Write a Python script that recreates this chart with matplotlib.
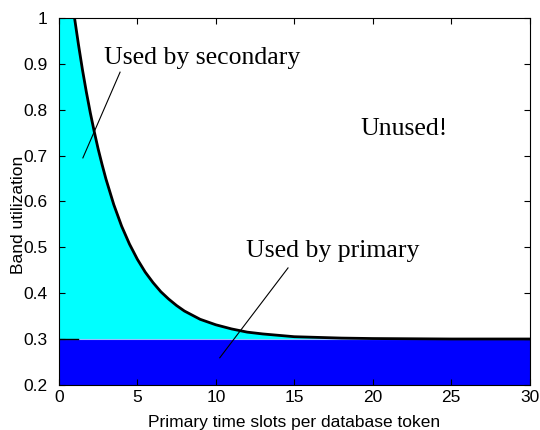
import numpy as np
import matplotlib
matplotlib.use("Agg")
import matplotlib.pyplot as plt

# band usage against primary slots per token
slots = [0, 0.25, 0.5, 0.75, 1, 1.25, 1.5, 1.75, 2, 2.25, 2.5, 2.75, 3,
         3.5, 4, 4.5, 5, 5.5, 6, 6.5, 7, 7.5, 8, 9, 10, 11, 12, 13, 14,
         15, 16, 18, 20, 25, 30]
total_used = [1.29, 1.209, 1.133, 1.064, 1.0, 0.942, 0.888, 0.839, 0.794,
              0.753, 0.715, 0.681, 0.649, 0.593, 0.546, 0.507, 0.474,
              0.446, 0.423, 0.403, 0.387, 0.373, 0.361, 0.343, 0.331,
              0.322, 0.315, 0.311, 0.308, 0.305, 0.304, 0.302, 0.301,
              0.300, 0.300]
primary_share = 0.3
y_floor = 0.2

x = np.array(slots)
y = np.array(total_used)

plt.rcParams['font.family'] = ['Liberation Sans', 'DejaVu Sans']
fig = plt.figure(figsize=(5.4, 4.3), dpi=100)
ax = fig.add_axes([0.109, 0.105, 0.872, 0.853])

ax.fill_between(x, primary_share, y, color=(0, 1, 1), lw=0)
ax.fill_between(x, y_floor, primary_share, color=(0, 0, 1), lw=0)
ax.axhline(primary_share, color=(0.6, 0.75, 1), lw=0.8)
ax.plot(x, y, color='k', lw=2)
ax.plot([0, 1.2], [primary_share, primary_share], color='k', lw=1)

serif = dict(family=['Liberation Serif', 'DejaVu Serif'], fontsize=18.5)
ax.text(2.9, 0.912, "Used by secondary", va='center', **serif)
ax.text(19.2, 0.758, "Unused!", va='center', **serif)
ax.text(11.9, 0.492, "Used by primary", va='center', **serif)
ax.plot([1.53, 3.9], [0.695, 0.882], color='k', lw=0.8)
ax.plot([10.25, 14.6], [0.259, 0.455], color='k', lw=0.8)

ax.set_xlim(0, 30)
ax.set_ylim(0.2, 1)
ax.set_xticks(range(0, 31, 5))
ax.set_yticks([0.2, 0.3, 0.4, 0.5, 0.6, 0.7, 0.8, 0.9, 1])
ax.set_yticklabels(["0.2", "0.3", "0.4", "0.5", "0.6", "0.7", "0.8", "0.9", "1"])
ax.tick_params(direction='in', top=True, right=True, labelsize=12.5, length=4)
ax.tick_params(axis='y', pad=8)
ax.set_xlabel("Primary time slots per database token", fontsize=12.5)
ax.set_ylabel("Band utilization", fontsize=12.5)
ax.xaxis.set_label_coords(0.5, -0.082)
ax.yaxis.set_label_coords(-0.07, 0.463)

fig.savefig("out.png")
